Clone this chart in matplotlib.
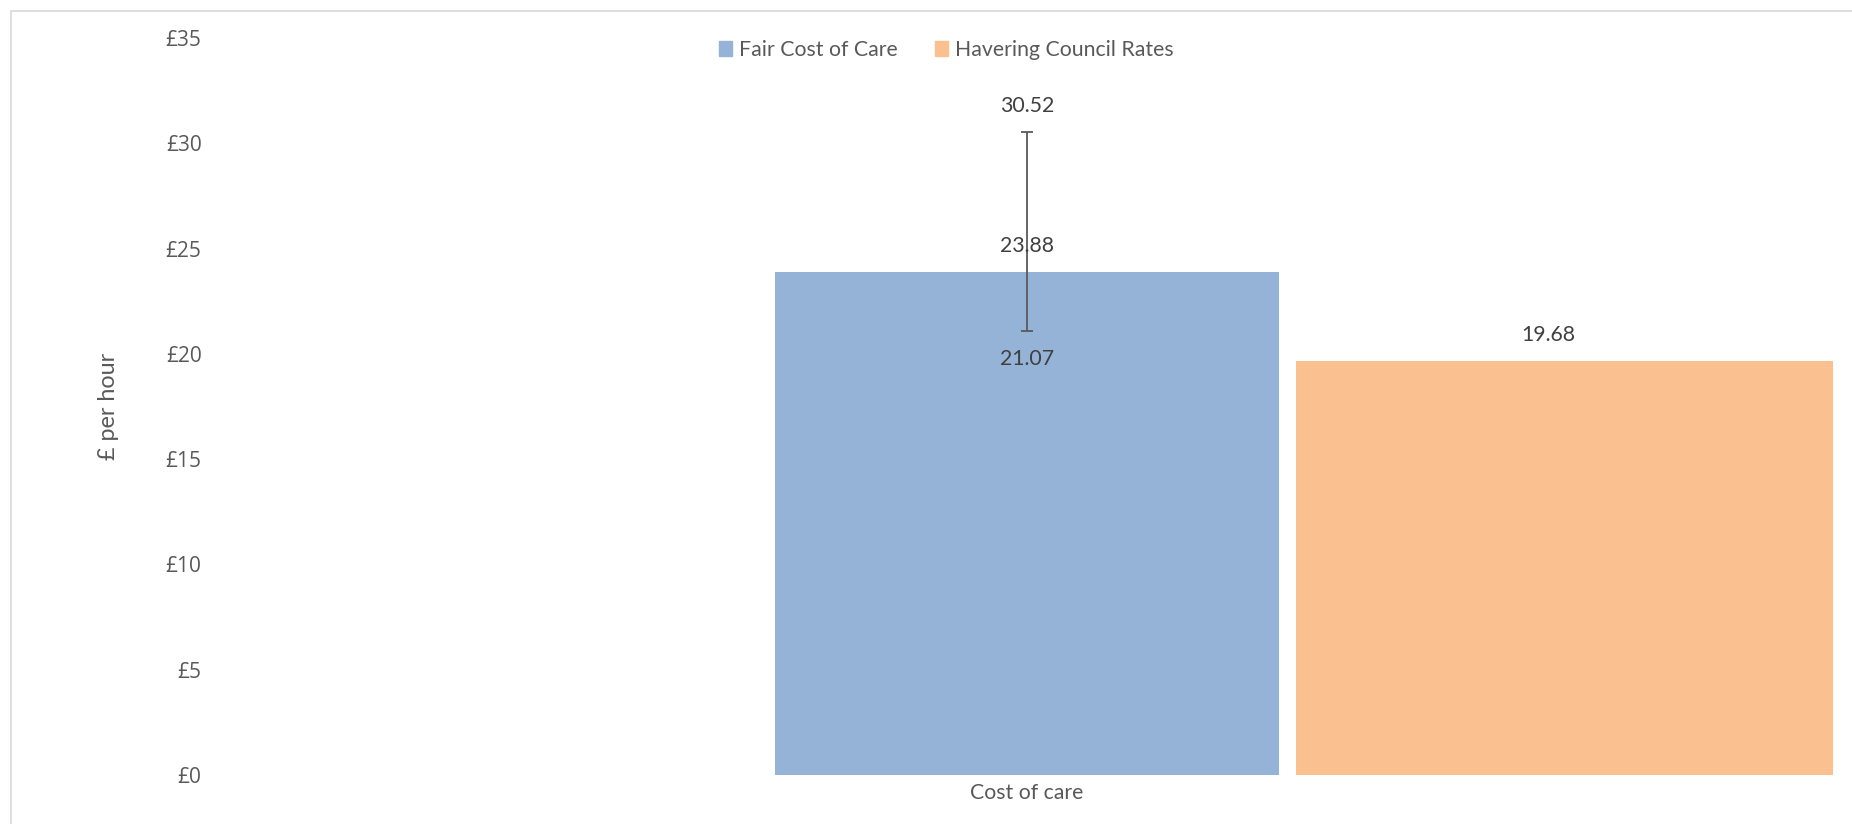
import matplotlib.pyplot as plt
from matplotlib.patches import Rectangle, Patch

# chart data
categories = ["Cost of care"]
series_names = ["Fair Cost of Care", "Havering Council Rates"]
fair_cost = [23.88]
fair_low = [21.07]
fair_high = [30.52]
havering = [19.68]
y_ticks = [0, 5, 10, 15, 20, 25, 30, 35]

BLUE = "#95b3d7"
ORANGE = "#fac090"
TEXT = "#404040"
GREY = "#595959"

W, H = 1852, 824
fig = plt.figure(figsize=(W / 100, H / 100), dpi=100)
ax = fig.add_axes([221 / W, 49 / H, (1833 - 221) / W, (775 - 38) / H])

# blue bar sits on the category, the orange one overlaps to its right
ax.bar(0, fair_cost, width=0.3127, color=BLUE, zorder=2)
ax.bar(0.1669, havering, width=0.34, align="edge", color=ORANGE, zorder=2)

err_lo = [c - l for c, l in zip(fair_cost, fair_low)]
err_hi = [h - c for c, h in zip(fair_cost, fair_high)]
ax.errorbar(0, fair_cost, yerr=[err_lo, err_hi], fmt="none", ecolor=GREY,
            elinewidth=1.3, capsize=4, capthick=1.3, zorder=3)

lab = dict(textcoords="offset points", ha="center", va="center",
           color=TEXT, fontsize=15.3, family="Lato", zorder=4)
ax.annotate(f"{fair_high[0]:.2f}", (0, fair_high[0]), xytext=(0, 18.7), **lab)
ax.annotate(f"{fair_cost[0]:.2f}", (0, fair_cost[0]), xytext=(0, 18.5), **lab)
ax.annotate(f"{fair_low[0]:.2f}", (0, fair_low[0]), xytext=(0, -20), **lab)
ax.annotate(f"{havering[0]:.2f}", (0.1669 + 0.3127 / 2, havering[0]),
            xytext=(0, 18.7), **lab)

ax.set_xlim(-0.5, 0.5)
ax.set_ylim(0, 35)
ax.set_yticks(y_ticks)
ax.set_yticklabels([f"£{v}" for v in y_ticks], family="Open Sans", fontsize=15, color=GREY)
ax.set_xticks([0])
ax.set_xticklabels(categories, family="Lato", fontsize=15.3, color=GREY)
ax.tick_params(axis="y", length=0, pad=14)
ax.tick_params(axis="x", length=0, pad=6)
for s in ax.spines.values():
    s.set_visible(False)

ax.set_ylabel("£ per hour", family="Lato", fontsize=16.8, color=GREY, labelpad=0)
ax.yaxis.set_label_coords((119 - 221) / (1833 - 221), 0.5)

handles = [Patch(color=BLUE), Patch(color=ORANGE)]
fig.legend(handles, series_names, loc="center", bbox_to_anchor=(946 / W, 1 - 50 / H),
           ncol=2, frameon=False, handlelength=0.65, handleheight=0.65,
           handletextpad=0.3, columnspacing=1.75,
           prop={"family": "Lato", "size": 15.3}, labelcolor=GREY)

# outer chart frame, cut off on the right and bottom
fig.add_artist(Rectangle((11 / W, -0.1), 1.2, 1.1 - 10.5 / H, transform=fig.transFigure,
                         fill=False, edgecolor="#d9d9d9", lw=1.2))

fig.savefig("out.png", dpi=100)
